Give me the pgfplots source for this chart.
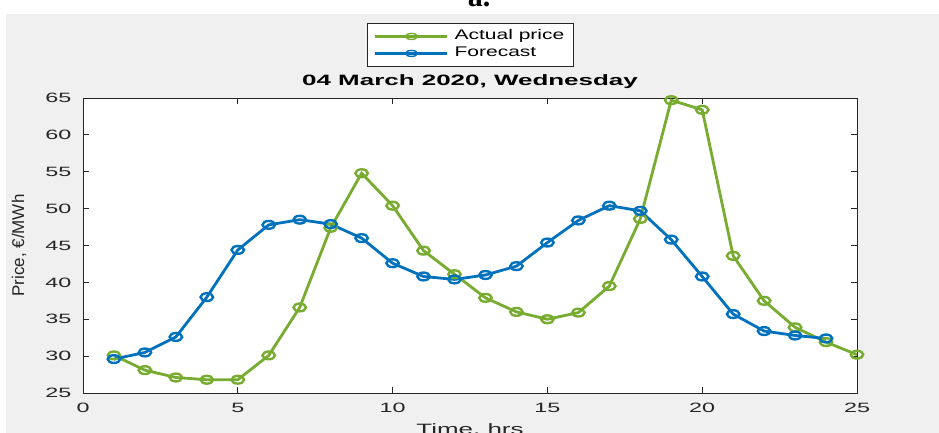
\documentclass[border=0pt]{standalone}
\usepackage{fontspec}
\setmainfont{Liberation Sans}[FakeStretch=1.73]
\newfontfamily\legfont{Liberation Sans}[FakeStretch=1.5]
\newfontfamily\ylfont{Liberation Sans}
\newfontfamily\serifcap{Liberation Serif}
\usepackage{pgfplots}
\pgfplotsset{compat=1.18}

\definecolor{figbg}{RGB}{240,240,240}
\definecolor{axiscol}{RGB}{38,38,38}
\definecolor{actualgreen}{RGB}{119,172,48}
\definecolor{forecastblue}{RGB}{0,114,189}

\begin{document}
\begin{tikzpicture}[x=1pt,y=1pt]
\useasboundingbox (-83,-40) rectangle (856,393);
\fill[figbg] (-77,-40) rectangle (856,379);
\node[anchor=base, font=\serifcap\bfseries\fontsize{30}{30}\selectfont] at (396,386) {a.};
\begin{axis}[
  at={(0,0)}, anchor=south west,
  scale only axis, width=774pt, height=295pt,
  xmin=0, xmax=25, ymin=25, ymax=65,
  xtick={0,5,...,25}, ytick={25,30,...,65},
  tick align=inside, major tick length=6pt,
  axis line style={axiscol, line width=0.8pt},
  every tick/.style={axiscol, line width=0.8pt},
  axis background/.style={fill=white},
  /pgf/number format/assume math mode=true,
  tick label style={font=\fontsize{13.5}{16}\selectfont, text=axiscol, inner sep=0pt},
  yticklabel style={anchor=east, xshift=-11.5pt},
  xticklabel style={anchor=north, yshift=-10pt},
  title={04 March 2020, Wednesday},
  title style={font=\bfseries\fontsize{15}{18}\selectfont, anchor=base,
    at={(axis description cs:0.5,1)}, yshift=7pt, inner sep=0pt},
  xlabel={Time, hrs},
  xlabel style={font=\fontsize{15}{18}\selectfont, text=axiscol, anchor=base,
    at={(axis description cs:0.5,-0.1390)}, inner sep=0pt},
  ylabel={Price, €/MWh},
  ylabel style={font=\ylfont\fontsize{17}{20}\selectfont, text=axiscol, anchor=center,
    at={(axis description cs:-0.0827,0.5)}, inner sep=0pt},
  legend style={at={(axis description cs:0.3669,1.2542)}, anchor=north west,
    draw=axiscol, line width=0.8pt, fill=white,
    font=\legfont\fontsize{14}{17}\selectfont, text=black,
    inner xsep=7pt, inner ysep=5pt, row sep=1pt,
    nodes={inner sep=2pt, text height=9.5pt, text depth=2.5pt},
    /tikz/every odd column/.append style={column sep=4pt}},
  legend cell align=left,
  legend image code/.code={
    \draw[mark repeat=2, mark phase=2, #1, line width=2.2pt,
      mark options={xscale=2.0, mark size=3pt, line width=1.4pt, fill=white}]
      plot coordinates {(0pt,0pt) (36pt,0pt) (72pt,0pt)};
  },
  every axis plot/.append style={line width=2.8pt},
]
\addplot[color=actualgreen, mark=o, mark size=3.9pt,
  mark options={xscale=1.6, line width=2.4pt}] coordinates {
  (1,30.1) (2,28.1) (3,27.1) (4,26.8) (5,26.8) (6,30.1) (7,36.6) (8,47.4)
  (9,54.8) (10,50.4) (11,44.3) (12,41.1) (13,37.9) (14,36.0) (15,35.0)
  (16,35.9) (17,39.5) (18,48.6) (19,64.7) (20,63.4) (21,43.6) (22,37.5)
  (23,33.9) (24,31.9) (25,30.2)
};
\addlegendentry{Actual price}
\addplot[color=forecastblue, mark=o, mark size=3.9pt,
  mark options={xscale=1.6, line width=2.4pt}] coordinates {
  (1,29.6) (2,30.5) (3,32.6) (4,38.0) (5,44.4) (6,47.8) (7,48.5) (8,47.9)
  (9,46.0) (10,42.6) (11,40.8) (12,40.4) (13,41.0) (14,42.2) (15,45.4)
  (16,48.4) (17,50.4) (18,49.7) (19,45.8) (20,40.8) (21,35.7) (22,33.4)
  (23,32.8) (24,32.4)
};
\addlegendentry{Forecast}
\end{axis}
\end{tikzpicture}
\end{document}
